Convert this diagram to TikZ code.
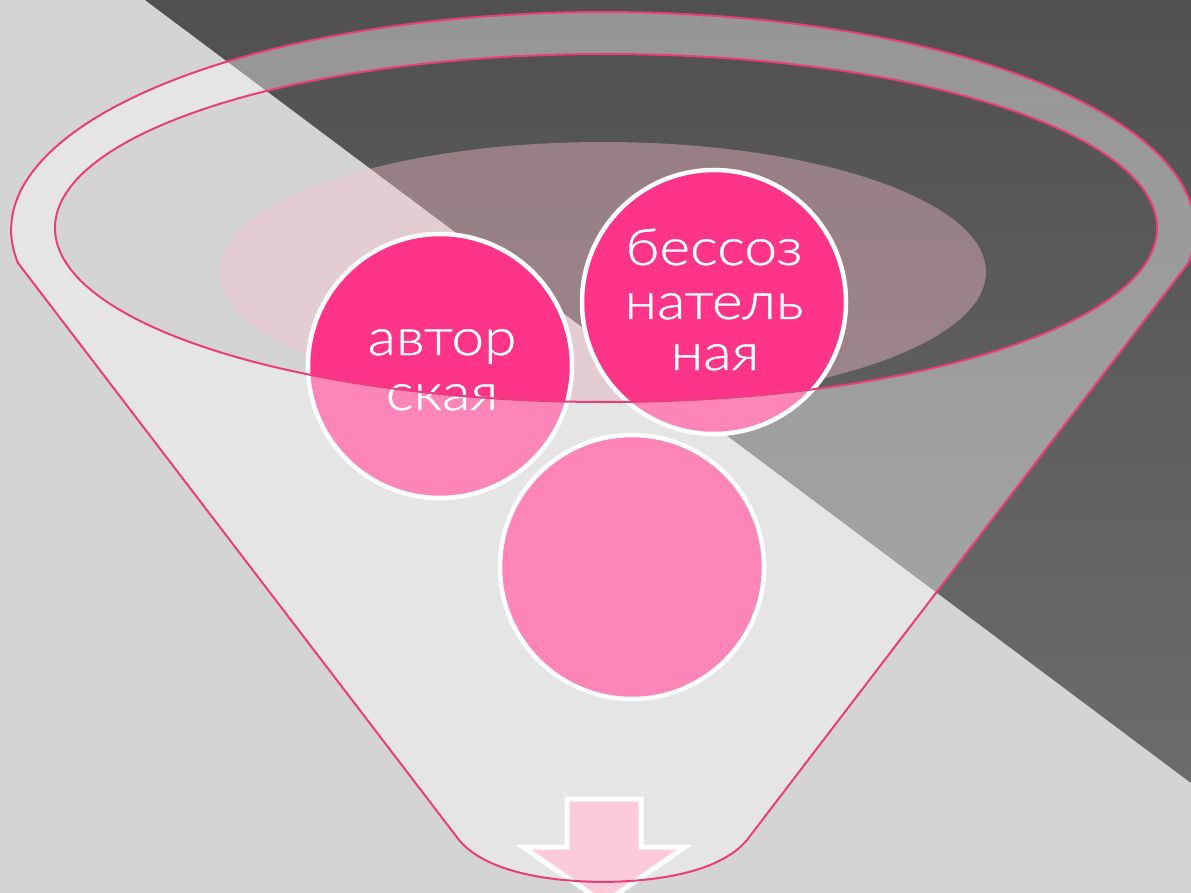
\documentclass[tikz,border=0pt]{standalone}
\usepackage{fontspec}
\newfontfamily\lblfont{Lato Light}[FakeStretch=1.15,FakeBold=0.8]
\definecolor{bglight}{RGB}{212,212,212}
\definecolor{bgdarktop}{RGB}{80,80,80}
\definecolor{bgdarkbot}{RGB}{108,108,108}
\definecolor{hotpink}{RGB}{253,52,135}
\definecolor{liquid}{RGB}{255,194,209}
\definecolor{rimpink}{RGB}{234,62,124}
\definecolor{arrowpink}{RGB}{252,203,217}
\newcommand\funnelOutline{(18,263) arc[start angle=171.3, end angle=368.7, x radius=592, y radius=218] -- (750,836) .. controls (732,862) and (686,881) .. (603,882) .. controls (520,881) and (474,862) .. (456,836) -- cycle (606,228) ellipse [x radius=551, y radius=174]}
\begin{document}
\begin{tikzpicture}[x=1pt,y=-1pt,
  ball/.style={circle, draw=white, line width=4.5pt, fill=hotpink, minimum size=264pt, inner sep=0pt},
  balltext/.style={text=white, font=\lblfont\fontsize{51}{55}\selectfont, anchor=base, inner sep=0pt},
  funnelfill/.style={fill=white, fill opacity=0.4, even odd rule},
  funneledge/.style={draw=rimpink, line width=2pt},
  arrowshape/.style={draw=white, line width=5pt, fill=arrowpink, line join=miter}
]
\useasboundingbox (0,0) rectangle (1191,893);
\fill[bglight] (0,0) rectangle (1191,893);
\shade[top color=bgdarktop, bottom color=bgdarkbot] (145,0) -- (1191,0) -- (1191,783) -- cycle;
\fill[liquid, fill opacity=0.39] (603,272) ellipse [x radius=383, y radius=130];
\node[ball] (ca) at (440,366) {};
\node[ball] (cb) at (714,302) {};
\node[ball] (cc) at (632,567) {};
\node[balltext] (ta1) at (442,355) {автор};
\node[balltext] (ta2) at (442,410) {ская};
\node[balltext] (tb1) at (714,265) {бессоз};
\node[balltext] (tb2) at (714,319) {натель};
\node[balltext] (tb3) at (715,370) {ная};
\path[funnelfill] \funnelOutline;
\draw[arrowshape] (567,799) -- (641,799) -- (641,847) -- (685,847) -- (604,903) -- (523,847) -- (567,847) -- cycle;
\draw[funneledge] \funnelOutline;
\end{tikzpicture}
\end{document}
